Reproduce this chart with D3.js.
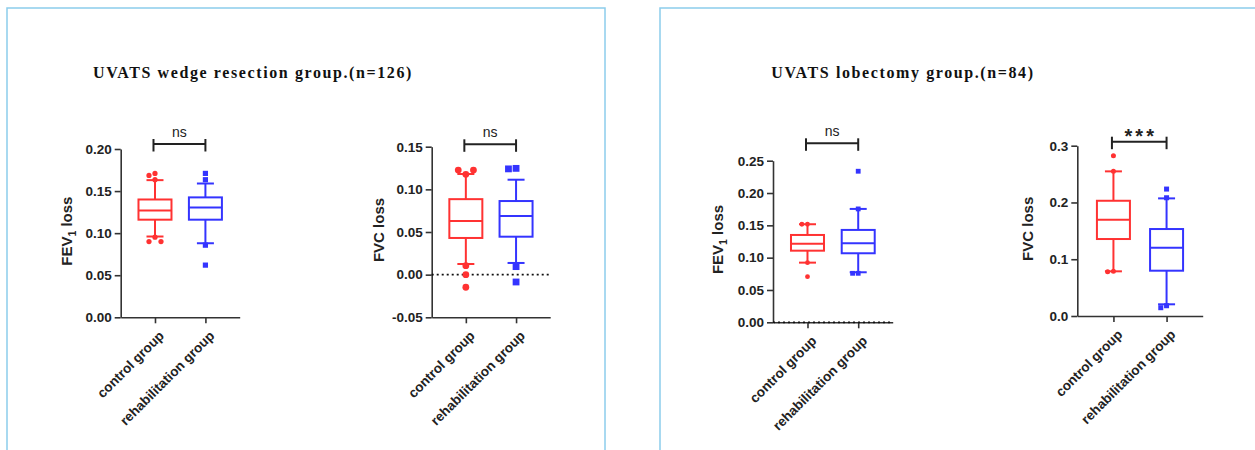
<!DOCTYPE html>
<html>
<head>
<meta charset="utf-8">
<script src="https://cdn.jsdelivr.net/npm/d3@7"></script>
<style>
  body { margin: 0; background: #fff; }
  svg { font-family: 'Liberation Sans', Arial, sans-serif; }
  .title { font-family: 'Liberation Serif', 'Times New Roman', serif; font-weight: bold; font-size: 16px; letter-spacing: 1.6px; fill: #111; }
  .tick text { font-weight: bold; font-size: 13.5px; fill: #222; }
  .domain, .tick line { stroke: #333; stroke-width: 1.6px; }
  .ylab { font-weight: bold; font-size: 15px; fill: #222; }
  .xlab { font-weight: bold; font-size: 13px; fill: #222; }
</style>
</head>
<body>
<svg id="chart" width="1255" height="450"></svg>
<script>
const groups = ['control group', 'rehabilitation group'];
const titles = ['UVATS wedge resection group.(n=126)', 'UVATS lobectomy group.(n=84)'];
const significance = ['ns', 'ns', 'ns', '***'];

// box stats: [whisker low, Q1, median, Q3, whisker high]
const wedgeFev1Control = [0.096, 0.116, 0.127, 0.140, 0.163];
const wedgeFev1Rehab = [0.088, 0.116, 0.1305, 0.1425, 0.159];
const wedgeFev1ControlPts = [0.171, 0.1686, 0.1635, 0.0952, 0.090, 0.090];
const wedgeFev1RehabPts = [0.171, 0.1635, 0.0857, 0.062];
const wedgeFev1Ticks = [0, 0.05, 0.10, 0.15, 0.20];

const wedgeFvcControl = [0.0125, 0.043, 0.063, 0.0885, 0.118];
const wedgeFvcRehab = [0.0137, 0.0445, 0.0687, 0.0863, 0.1113];
const wedgeFvcControlPts = [0.1176, 0.1226, 0.1226, 0.0105, 0.0, -0.0148];
const wedgeFvcRehabPts = [0.1246, 0.124, 0.0094, -0.0086];
const wedgeFvcTicks = [-0.05, 0, 0.05, 0.10, 0.15];

const lobeFev1Control = [0.0923, 0.1108, 0.1217, 0.1351, 0.1517];
const lobeFev1Rehab = [0.0774, 0.1068, 0.1223, 0.1429, 0.1754];
const lobeFev1ControlPts = [0.1517, 0.1517, 0.0923, 0.0706];
const lobeFev1RehabPts = [0.2337, 0.1754, 0.0758, 0.0758];
const lobeFev1Ticks = [0, 0.05, 0.10, 0.15, 0.20, 0.25];

const lobeFvcControl = [0.0787, 0.1356, 0.1696, 0.203, 0.2548];
const lobeFvcRehab = [0.0206, 0.0798, 0.1203, 0.1532, 0.2072];
const lobeFvcControlPts = [0.2823, 0.2548, 0.0787, 0.078];
const lobeFvcRehabPts = [0.2236, 0.2083, 0.0181, 0.0146];
const lobeFvcTicks = [0, 0.1, 0.2, 0.3];

const colors = ['#ff3232', '#3434ff'];

const svg = d3.select('#chart');

// panel frames
svg.append('rect').attr('x', 7).attr('y', 8).attr('width', 598).attr('height', 460)
  .attr('fill', 'none').attr('stroke', '#8ccdec').attr('stroke-width', 1.5);
svg.append('rect').attr('x', 660).attr('y', 8).attr('width', 620).attr('height', 460)
  .attr('fill', 'none').attr('stroke', '#8ccdec').attr('stroke-width', 1.5);

svg.append('text').attr('class', 'title').attr('x', 253).attr('y', 78)
  .attr('text-anchor', 'middle').text(titles[0]);
svg.append('text').attr('class', 'title').attr('x', 903).attr('y', 78)
  .attr('text-anchor', 'middle').text(titles[1]);

const panels = [
  {x: 120.7, top: 149, bottom: 317.3, width: 119, ticks: wedgeFev1Ticks, fmt: '.2f', fev: true,
   labelDx: 49, boxes: [wedgeFev1Control, wedgeFev1Rehab], pts: [wedgeFev1ControlPts, wedgeFev1RehabPts],
   r: 2.6, zero: false, sigY: 144},
  {x: 431.7, top: 146.7, bottom: 317.3, width: 118.5, ticks: wedgeFvcTicks, fmt: '.2f', fev: false,
   labelDx: 48, boxes: [wedgeFvcControl, wedgeFvcRehab], pts: [wedgeFvcControlPts, wedgeFvcRehabPts],
   r: 3.4, zero: true, sigY: 144.3},
  {x: 773, top: 160.7, bottom: 322.3, width: 119.7, ticks: lobeFev1Ticks, fmt: '.2f', fev: true,
   labelDx: 50, boxes: [lobeFev1Control, lobeFev1Rehab], pts: [lobeFev1ControlPts, lobeFev1RehabPts],
   r: 2.4, zero: true, sigY: 143.3},
  {x: 1077.3, top: 145.7, bottom: 316, width: 125.4, ticks: lobeFvcTicks, fmt: '.1f', fev: false,
   labelDx: 44, boxes: [lobeFvcControl, lobeFvcRehab], pts: [lobeFvcControlPts, lobeFvcRehabPts],
   r: 2.5, zero: false, sigY: 141.7}
];

panels.forEach((p, i) => {
  const g = svg.append('g');
  const y = d3.scaleLinear()
    .domain([p.ticks[0], p.ticks[p.ticks.length - 1]])
    .range([p.bottom, p.top]);
  const x = d3.scalePoint().domain(groups).range([p.x, p.x + p.width]).padding(0.68);
  const fmt = d3.format(p.fmt);

  g.append('g')
    .attr('transform', 'translate(' + p.x + ',0)')
    .call(d3.axisLeft(y).tickValues(p.ticks).tickSize(6).tickSizeOuter(0).tickPadding(3)
      .tickFormat(d => fmt(d).replace('\u2212', '-')));

  let xAxis = g.append('g')
    .attr('transform', 'translate(0,' + p.bottom + ')')
    .call(d3.axisBottom(x).tickSize(6).tickSizeOuter(0));
  xAxis.selectAll('.tick text')
    .attr('class', 'xlab')
    .attr('text-anchor', 'end')
    .attr('x', 0).attr('y', 0).attr('dy', '0.35em')
    .attr('transform', 'translate(6,16) rotate(-45)');

  if (p.zero) {
    g.append('line')
      .attr('x1', p.x).attr('x2', p.x + p.width)
      .attr('y1', y(0)).attr('y2', y(0))
      .attr('stroke', '#111').attr('stroke-width', 1.8).attr('stroke-dasharray', '2,3');
  }

  // y label
  let ly = (p.top + p.bottom) / 2 - 2, lx = p.x - p.labelDx;
  let lab = g.append('text').attr('class', 'ylab').attr('text-anchor', 'middle')
    .attr('transform', 'translate(' + lx + ',' + ly + ') rotate(-90)');
  if (p.fev) {
    lab.append('tspan').text('FEV');
    lab.append('tspan').attr('font-size', '10.5px').attr('dy', 4).text('1');
    lab.append('tspan').attr('dy', -4).text(' loss');
  } else {
    lab.text('FVC loss');
  }

  // boxes
  const half = 16.5, cap = 8.5;
  groups.forEach((grp, k) => {
    const s = p.boxes[k], cx = x(grp), c = colors[k];
    const bg = g.append('g').attr('stroke', c).attr('stroke-width', 2).attr('fill', 'none');
    bg.append('rect').attr('x', cx - half).attr('width', half * 2)
      .attr('y', y(s[3])).attr('height', y(s[1]) - y(s[3]));
    bg.append('line').attr('x1', cx - half).attr('x2', cx + half).attr('y1', y(s[2])).attr('y2', y(s[2]));
    bg.append('line').attr('x1', cx).attr('x2', cx).attr('y1', y(s[3])).attr('y2', y(s[4]));
    bg.append('line').attr('x1', cx).attr('x2', cx).attr('y1', y(s[1])).attr('y2', y(s[0]));
    bg.append('line').attr('x1', cx - cap).attr('x2', cx + cap).attr('y1', y(s[4])).attr('y2', y(s[4]));
    bg.append('line').attr('x1', cx - cap).attr('x2', cx + cap).attr('y1', y(s[0])).attr('y2', y(s[0]));

    // points, dodged sideways when they overlap
    const placed = [], step = p.r * 2 + 0.8;
    p.pts[k].forEach(v => {
      const py = y(v);
      let off = 0;
      for (const o of [0, -step, step, -2 * step, 2 * step]) {
        if (placed.every(q => Math.hypot(q[0] - o, q[1] - py) >= step * 0.9)) { off = o; break; }
      }
      placed.push([off, py]);
    });
    if (k === 0) {
      g.selectAll(null).data(placed).enter().append('circle')
        .attr('cx', d => cx + d[0]).attr('cy', d => d[1]).attr('r', p.r).attr('fill', c);
    } else {
      g.selectAll(null).data(placed).enter().append('rect')
        .attr('x', d => cx + d[0] - p.r).attr('y', d => d[1] - p.r)
        .attr('width', p.r * 2).attr('height', p.r * 2).attr('fill', c);
    }
  });

  // significance bracket
  const x0 = x(groups[0]) - 1.5, x1 = x(groups[1]), sy = p.sigY;
  const br = g.append('g').attr('stroke', '#222').attr('stroke-width', 2).attr('fill', 'none');
  br.append('line').attr('x1', x0).attr('x2', x1).attr('y1', sy).attr('y2', sy);
  br.append('line').attr('x1', x0).attr('x2', x0).attr('y1', sy - 5).attr('y2', sy + 7.5);
  br.append('line').attr('x1', x1).attr('x2', x1).attr('y1', sy - 5).attr('y2', sy + 7.5);
  const star = significance[i] !== 'ns';
  g.append('text')
    .attr('x', (x0 + x1) / 2 + (star ? 1.5 : 0))
    .attr('y', star ? sy + 1 : sy - 7)
    .attr('text-anchor', 'middle')
    .attr('font-size', star ? '20px' : '14px')
    .attr('font-weight', star ? 'bold' : 'normal')
    .attr('letter-spacing', star ? '3px' : '0')
    .attr('fill', '#222')
    .text(significance[i]);
});
</script>
</body>
</html>
